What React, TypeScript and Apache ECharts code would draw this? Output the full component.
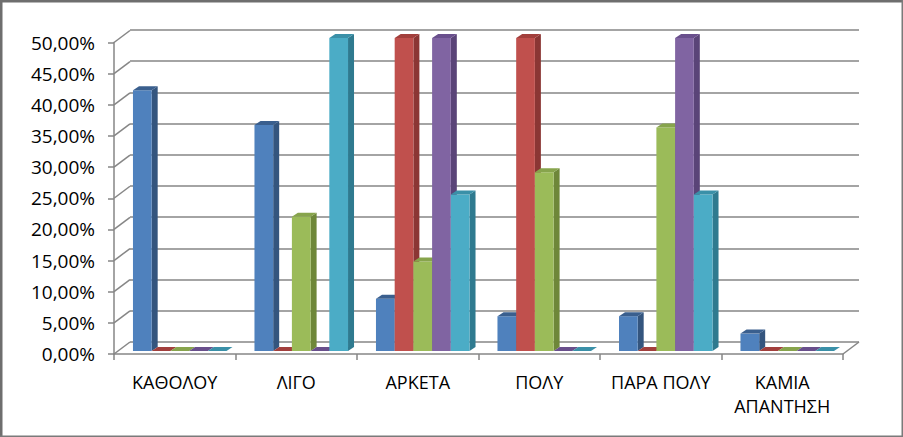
import React, { useEffect, useRef } from "react";
import * as echarts from "echarts";

const categories = ["ΚΑΘΟΛΟΥ", "ΛΙΓΟ", "ΑΡΚΕΤΑ", "ΠΟΛΥ", "ΠΑΡΑ ΠΟΛΥ", "ΚΑΜΙΑ\nΑΠΑΝΤΗΣΗ"];
const blueValues = [41.67, 36.11, 8.33, 5.56, 5.56, 2.78];
const redValues = [0, 0, 50, 50, 0, 0];
const greenValues = [0, 21.43, 14.29, 28.57, 35.71, 0];
const purpleValues = [0, 0, 50, 0, 50, 0];
const cyanValues = [0, 50, 25, 0, 25, 0];
const wallTicks = [0, 5, 10, 15, 20, 25, 30, 35, 40, 45, 50];

const seriesValues = [blueValues, redValues, greenValues, purpleValues, cyanValues];
const fronts = ["#4F81BD", "#C0504D", "#9BBB59", "#8064A2", "#4BACC6"];
const sides = ["#34557E", "#8B3634", "#6E8739", "#5A4478", "#2F7A8F"];
const tops = ["#3A5F8E", "#A23F3C", "#87A44C", "#694F8C", "#3A90A8"];

const LINE = "#868686";
const FONT = "'Open Sans', sans-serif";
const BAR_RATIO = 0.154;
const DX = 6;
const DY = -4;
const WALL_DX = 16;
const WALL_DY = -12;

function barSeries(idx: number) {
  return {
    type: "custom",
    xAxisIndex: 1,
    yAxisIndex: 1,
    z: 10 + idx,
    silent: true,
    clip: false,
    encode: { x: 0, y: 1 },
    data: seriesValues[idx].map((v, i) => [i, v]),
    renderItem: (_p: any, api: any) => {
      const top = api.coord([api.value(0), api.value(1)]);
      const base = api.coord([api.value(0), 0]);
      const w = api.size([1, 0])[0] * BAR_RATIO;
      const x0 = top[0] + (idx - 2.5) * w;
      const x1 = x0 + w;
      const yT = top[1];
      const yB = base[1];
      const children: any[] = [];
      if (yB - yT > 0.5) {
        children.push({
          type: "polygon",
          shape: { points: [[x1, yT], [x1 + DX, yT + DY], [x1 + DX, yB + DY], [x1, yB]] },
          style: { fill: sides[idx] },
        });
        children.push({
          type: "rect",
          shape: { x: x0, y: yT, width: w, height: yB - yT },
          style: { fill: fronts[idx] },
        });
      }
      children.push({
        type: "polygon",
        shape: { points: [[x0, yT], [x0 + DX, yT + DY], [x1 + DX, yT + DY], [x1, yT]] },
        style: { fill: tops[idx] },
      });
      return { type: "group", children };
    },
  };
}

export default function App() {
  const ref = useRef<HTMLDivElement>(null);
  useEffect(() => {
    document.body.style.margin = "0";
    const chart = echarts.init(ref.current!, undefined, { renderer: "svg" });
    const labelFmt = (v: number) => v.toFixed(2).replace(".", ",") + "%";
    chart.setOption({
      animation: false,
      backgroundColor: "#ffffff",
      grid: [
        { left: 114, right: 60, top: 42.5, bottom: 83 },
        { left: 119, right: 55, top: 38, bottom: 86 },
        { left: 130, right: 44, top: 30, bottom: 95 },
      ],
      xAxis: [
        {
          type: "category",
          gridIndex: 0,
          data: categories,
          axisLine: { lineStyle: { color: LINE, width: 1.5 } },
          axisTick: { show: true, length: 6, lineStyle: { color: LINE, width: 1.5 } },
          axisLabel: { color: "#000000", fontFamily: FONT, fontSize: 18, margin: 16, lineHeight: 24, interval: 0 },
          splitLine: { show: false },
        },
        { type: "category", gridIndex: 1, data: categories, show: false },
        { type: "category", gridIndex: 2, data: categories, show: false },
      ],
      yAxis: [
        {
          type: "value",
          gridIndex: 0,
          min: 0,
          max: 50,
          interval: 5,
          axisLine: { show: true, lineStyle: { color: LINE, width: 1.5 } },
          axisTick: { show: true, length: 6, lineStyle: { color: LINE, width: 1.5 } },
          axisLabel: { color: "#000000", fontFamily: FONT, fontSize: 19, margin: 19, formatter: labelFmt },
          splitLine: { show: false },
        },
        { type: "value", gridIndex: 1, min: 0, max: 50, interval: 5, show: false, splitLine: { show: false } },
        {
          type: "value",
          gridIndex: 2,
          min: 0,
          max: 50,
          interval: 5,
          axisLine: { show: false },
          axisTick: { show: false },
          axisLabel: { show: false },
          splitLine: { show: true, lineStyle: { color: LINE, width: 1.5 } },
        },
      ],
      series: [
        {
          type: "custom",
          xAxisIndex: 0,
          yAxisIndex: 0,
          z: 2,
          silent: true,
          clip: false,
          encode: { x: 0, y: 1 },
          data: wallTicks.map((v) => [0, v]),
          renderItem: (p: any, api: any) => {
            const y = api.coord([0, api.value(1)])[1];
            const x = p.coordSys.x;
            const style = { stroke: LINE, lineWidth: 1.5, fill: "none" };
            const children: any[] = [
              { type: "line", shape: { x1: x, y1: y, x2: x + WALL_DX, y2: y + WALL_DY }, style },
            ];
            if (api.value(1) === 0) {
              const xr = x + p.coordSys.width;
              children.push({ type: "line", shape: { x1: xr, y1: y, x2: xr + WALL_DX, y2: y + WALL_DY }, style });
            }
            return { type: "group", children };
          },
        },
        ...seriesValues.map((_, i) => barSeries(i)),
      ],
      graphic: [
        { type: "rect", shape: { x: 0, y: 0, width: 903, height: 2.5 }, style: { fill: "#6e6e6e" }, z: 50 },
        { type: "rect", shape: { x: 0, y: 0, width: 2.5, height: 437 }, style: { fill: "#6e6e6e" }, z: 50 },
        { type: "rect", shape: { x: 0, y: 435.5, width: 903, height: 1.5 }, style: { fill: "#7a7a7a" }, z: 50 },
        { type: "rect", shape: { x: 901.5, y: 0, width: 1.5, height: 437 }, style: { fill: "#7a7a7a" }, z: 50 },
      ],
    });
    return () => chart.dispose();
  }, []);
  return <div ref={ref} style={{ width: 903, height: 437 }} />;
}
